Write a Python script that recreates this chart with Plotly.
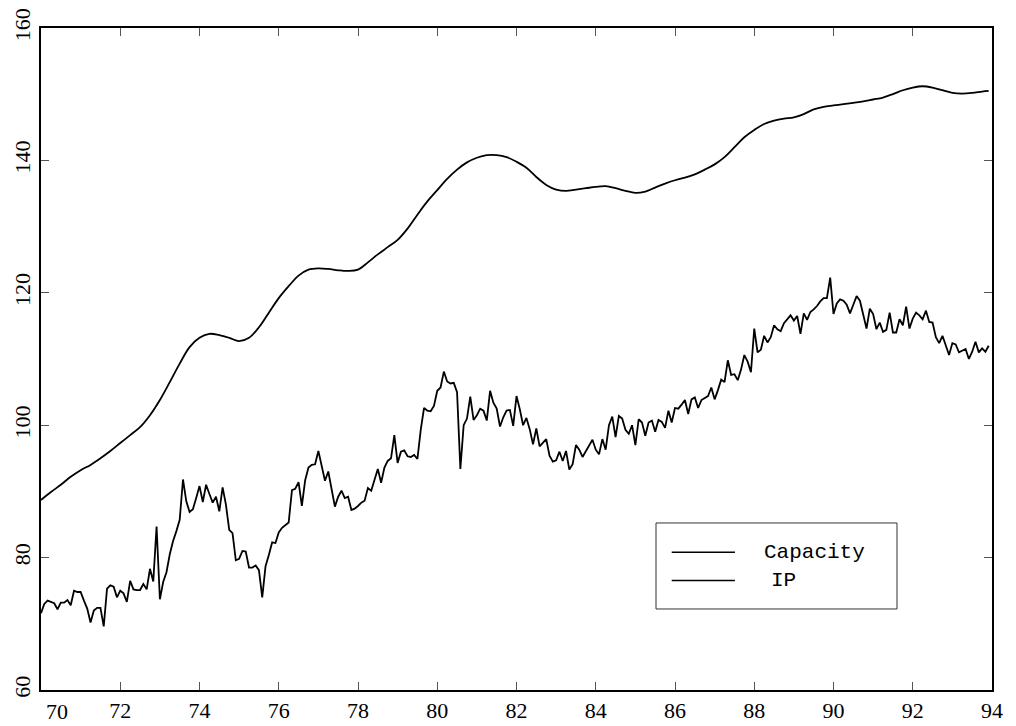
import plotly.graph_objects as go

# Monthly industrial production index, Jan 1970 - Dec 1993 (12 values per row)
ip_by_year = {
    1970: [71.6, 73.0, 73.5, 73.3, 73.1, 72.2, 73.2, 73.2, 73.6, 72.8, 75.0, 74.8],
    1971: [74.8, 73.5, 72.3, 70.2, 72.0, 72.4, 72.4, 69.6, 75.3, 75.8, 75.6, 74.0],
    1972: [75.0, 74.6, 73.3, 76.5, 75.2, 75.1, 75.1, 76.0, 75.2, 78.3, 76.4, 84.7],
    1973: [73.7, 76.3, 77.8, 80.5, 82.5, 84.0, 85.7, 91.8, 88.5, 86.9, 87.3, 89.0],
    1974: [90.8, 88.4, 91.0, 89.6, 88.3, 89.2, 87.0, 90.6, 88.0, 84.2, 83.7, 79.6],
    1975: [79.8, 81.0, 80.9, 78.5, 78.5, 78.8, 78.1, 74.0, 78.7, 80.4, 82.3, 82.2],
    1976: [83.8, 84.5, 84.9, 85.3, 90.2, 90.4, 91.4, 87.8, 91.7, 93.6, 94.0, 94.1],
    1977: [96.1, 94.0, 91.6, 93.0, 90.5, 87.7, 89.2, 90.1, 89.0, 89.2, 87.2, 87.4],
    1978: [87.8, 88.3, 88.6, 90.5, 90.1, 91.8, 93.4, 91.3, 93.6, 94.6, 95.0, 98.5],
    1979: [94.3, 96.0, 96.2, 95.3, 95.2, 95.5, 94.9, 99.3, 102.6, 102.2, 102.1, 102.9],
    1980: [105.2, 105.7, 108.1, 106.6, 106.3, 106.4, 105.0, 93.4, 100.0, 101.0, 104.3, 100.8],
    1981: [101.5, 102.5, 102.2, 100.7, 105.2, 103.4, 102.5, 99.8, 101.2, 102.2, 102.3, 99.9],
    1982: [104.4, 102.4, 100.0, 101.1, 99.4, 97.1, 99.5, 96.8, 97.3, 97.9, 95.4, 94.5],
    1983: [94.7, 96.0, 94.6, 96.1, 93.3, 94.1, 97.0, 96.3, 95.2, 96.0, 97.0, 97.8],
    1984: [96.3, 95.6, 97.9, 96.3, 100.0, 101.3, 98.2, 101.4, 101.0, 99.3, 98.7, 100.0],
    1985: [97.0, 100.9, 100.4, 98.4, 100.4, 100.7, 99.0, 100.8, 100.5, 99.6, 102.2, 100.4],
    1986: [102.6, 102.5, 103.1, 103.8, 101.7, 103.9, 104.2, 102.6, 103.8, 104.1, 104.4, 105.7],
    1987: [103.9, 105.3, 106.9, 106.5, 109.8, 107.6, 107.7, 106.8, 108.4, 110.6, 109.6, 108.0],
    1988: [114.6, 111.0, 111.4, 113.5, 112.5, 113.3, 115.1, 114.5, 114.2, 115.4, 116.0, 116.6],
    1989: [115.8, 116.5, 113.8, 116.9, 115.9, 117.1, 117.5, 118.0, 118.7, 119.2, 119.2, 122.3],
    1990: [116.8, 118.4, 119.0, 118.8, 118.2, 116.9, 118.2, 119.5, 118.8, 116.9, 114.6, 117.6],
    1991: [116.8, 114.5, 115.5, 114.1, 114.4, 117.0, 114.0, 114.0, 116.0, 115.1, 117.9, 114.6],
    1992: [116.1, 117.0, 116.6, 116.0, 117.3, 115.6, 115.5, 113.3, 112.4, 113.5, 112.1, 110.6],
    1993: [112.4, 112.2, 111.0, 111.3, 111.5, 110.0, 111.1, 112.6, 111.0, 111.6, 111.1, 112.0],
}

# Quarterly capacity index (4 values per year) plus the final month of 1993
capacity_by_year = {
    1970: [88.7, 89.9, 91.0, 92.2],
    1971: [93.2, 94.0, 95.0, 96.1],
    1972: [97.3, 98.5, 99.7, 101.5],
    1973: [103.8, 106.5, 109.3, 111.8],
    1974: [113.2, 113.8, 113.6, 113.2],
    1975: [112.7, 113.2, 114.8, 117.0],
    1976: [119.2, 121.0, 122.6, 123.5],
    1977: [123.7, 123.6, 123.4, 123.3],
    1978: [123.5, 124.6, 125.8, 126.9],
    1979: [128.0, 129.7, 131.8, 133.8],
    1980: [135.5, 137.2, 138.6, 139.7],
    1981: [140.4, 140.8, 140.8, 140.5],
    1982: [139.8, 138.9, 137.5, 136.3],
    1983: [135.6, 135.4, 135.6, 135.8],
    1984: [136.0, 136.1, 135.8, 135.4],
    1985: [135.1, 135.3, 135.9, 136.5],
    1986: [137.0, 137.4, 137.9, 138.6],
    1987: [139.4, 140.5, 142.0, 143.5],
    1988: [144.6, 145.5, 146.0, 146.3],
    1989: [146.5, 147.0, 147.7, 148.1],
    1990: [148.3, 148.5, 148.7, 148.9],
    1991: [149.2, 149.5, 150.0, 150.6],
    1992: [151.0, 151.2, 151.0, 150.6],
    1993: [150.2, 150.1, 150.2, 150.4],
}
capacity_dec_1993 = 150.5

x_tick_values = list(range(70, 95, 2))
x_tick_labels = [str(v) for v in x_tick_values]
y_tick_values = list(range(60, 161, 20))
y_tick_labels = [str(v) for v in y_tick_values]

# Build x positions in two-digit decimal years
ip_x, ip_y = [], []
for year, vals in ip_by_year.items():
    for m, v in enumerate(vals):
        ip_x.append(year - 1900 + m / 12)
        ip_y.append(v)

cap_x, cap_y = [], []
for year, vals in capacity_by_year.items():
    for q, v in enumerate(vals):
        cap_x.append(year - 1900 + q * 0.25)
        cap_y.append(v)
cap_x.append(93 + 11 / 12)
cap_y.append(capacity_dec_1993)

TICK_FONT = dict(family="Liberation Serif", size=22, color="#000000")
KEY_FONT = dict(family="Liberation Mono", size=21, color="#000000")
LINE = dict(color="#000000", width=1.8)

fig = go.Figure()
fig.add_trace(go.Scatter(x=cap_x, y=cap_y, mode="lines", name="Capacity",
                         line=dict(LINE, shape="spline", smoothing=1.0),
                         showlegend=False))
fig.add_trace(go.Scatter(x=ip_x, y=ip_y, mode="lines", name="IP",
                         line=LINE, showlegend=False))

# The first x label is written separately, nudged right to clear the "60"
x_labels_drawn = [""] + x_tick_labels[1:]

axis_common = dict(
    showgrid=False, zeroline=False, automargin=False,
    showline=True, linecolor="#000000", linewidth=2, mirror="ticks",
    ticks="inside", ticklen=8, tickwidth=1, tickcolor="#555555",
    tickfont=TICK_FONT,
)

fig.update_xaxes(range=[70, 94], tickmode="array", tickvals=x_tick_values,
                 ticktext=x_labels_drawn, **axis_common)
fig.update_yaxes(range=[60, 160], tickmode="array", tickvals=y_tick_values,
                 ticktext=y_tick_labels, tickangle=-90, **axis_common)

fig.add_annotation(xref="x", yref="paper", x=x_tick_values[0], y=0,
                   text=x_tick_labels[0], showarrow=False,
                   xanchor="center", yanchor="middle", xshift=16, yshift=-21,
                   font=TICK_FONT)

# Boxed key in the lower right
box = dict(x0=0.6467, x1=0.9001, y0=0.1224, y1=0.2523)
fig.add_shape(type="rect", xref="paper", yref="paper", **box,
              line=dict(color="#333333", width=1), fillcolor="rgba(0,0,0,0)")
key_rows = [("Capacity", 0.2082, 0.7580), ("IP", 0.1653, 0.7650)]
for label, yk, xt in key_rows:
    fig.add_shape(type="line", xref="paper", yref="paper",
                  x0=0.6632, x1=0.7297, y0=yk, y1=yk,
                  line=dict(color="#000000", width=1.5))
    fig.add_annotation(xref="paper", yref="paper", x=xt, y=yk, text=label,
                       showarrow=False, xanchor="left", yanchor="middle",
                       font=KEY_FONT)

fig.update_layout(
    width=1016, height=726,
    margin=dict(l=41, r=24, t=28, b=36),
    paper_bgcolor="#ffffff", plot_bgcolor="#ffffff",
    showlegend=False,
)

fig.write_html("out.html", config={"displayModeBar": False})
